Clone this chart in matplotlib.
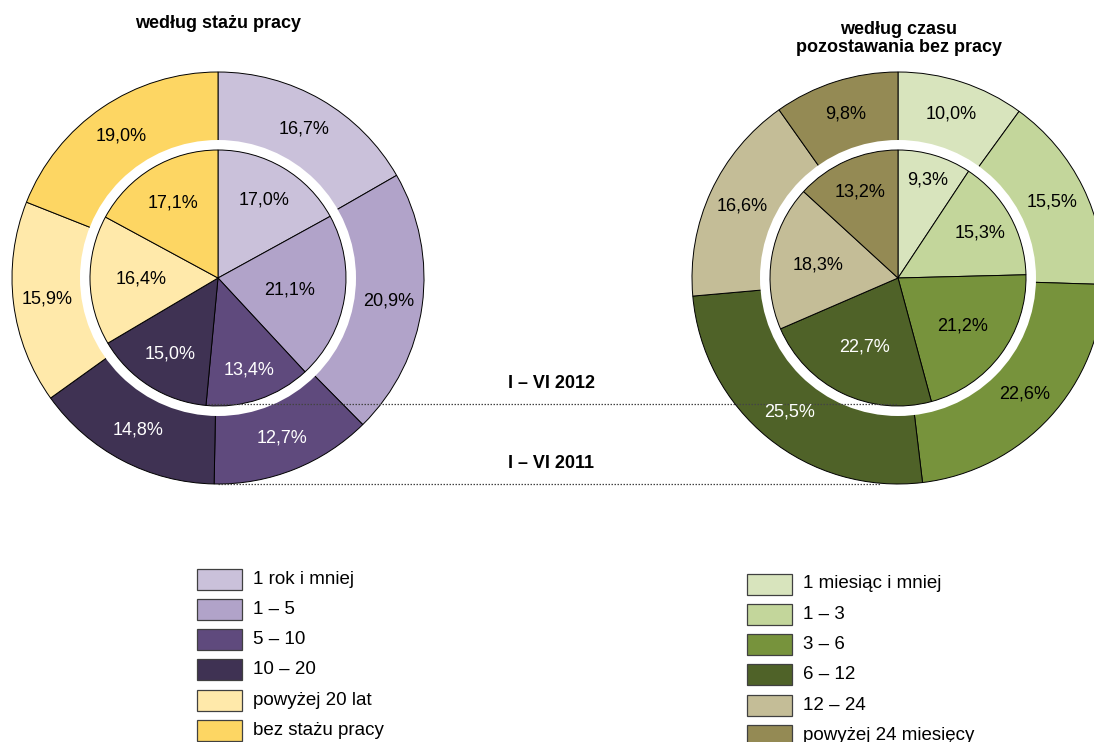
import matplotlib
matplotlib.use('Agg')
import matplotlib.pyplot as plt
from matplotlib.patches import Circle, Rectangle
import numpy as np

plt.rcParams['font.family'] = ['Liberation Sans', 'DejaVu Sans']

# ---- data ----
staz_categories = ['1 rok i mniej', '1 – 5', '5 – 10', '10 – 20', 'powyżej 20 lat', 'bez stażu pracy']
staz_2011 = [16.7, 20.9, 12.7, 14.8, 15.9, 19.0]
staz_2012 = [17.0, 21.1, 13.4, 15.0, 16.4, 17.1]

czas_categories = ['1 miesiąc i mniej', '1 – 3', '3 – 6', '6 – 12', '12 – 24', 'powyżej 24 miesięcy']
czas_2011 = [10.0, 15.5, 22.6, 25.5, 16.6, 9.8]
czas_2012 = [9.3, 15.3, 21.2, 22.7, 18.3, 13.2]

title_staz = 'według stażu pracy'
title_czas = ['według czasu', 'pozostawania bez pracy']
label_2012 = 'I – VI 2012'
label_2011 = 'I – VI 2011'

# ---- styles ----
staz_colors = ['#CAC1DA', '#B1A3C9', '#5F4A7D', '#3F3253', '#FFE9AA', '#FDD663']
czas_colors = ['#D8E4BD', '#C3D69B', '#77933C', '#4F6228', '#C4BD97', '#948A54']
staz_text = ['black', 'black', 'white', 'white', 'black', 'black']
czas_text = ['black', 'black', 'black', 'white', 'black', 'black']
staz_in_dist = [0.71, 0.57, 0.76, 0.70, 0.60, 0.68]
czas_in_dist = [0.80, 0.73, 0.63, 0.60, 0.63, 0.73]

W, H = 1094, 742
fig = plt.figure(figsize=(W / 100, H / 100), dpi=100)
ax = fig.add_axes([0, 0, 1, 1])


def Y(y):
    return H - y


R_OUT, R_GAP, R_IN = 206, 138, 128
FS = 13


def fmt(v):
    return f"{v:.1f}%".replace('.', ',')


def donut(cx, cy, outer, inner, colors, tcolors, in_dist):
    c = (cx, Y(cy))
    wo, _ = ax.pie(outer, colors=colors, startangle=90, counterclock=False,
                   radius=R_OUT, center=c,
                   wedgeprops=dict(edgecolor='black', linewidth=0.7))
    for w in wo:
        w.set_zorder(2)
    ax.add_patch(Circle(c, R_GAP, facecolor='white', edgecolor='none', zorder=3))
    wi, _ = ax.pie(inner, colors=colors, startangle=90, counterclock=False,
                   radius=R_IN, center=c,
                   wedgeprops=dict(edgecolor='black', linewidth=0.7))
    for w in wi:
        w.set_zorder(4)
    for w, v, tc in zip(wo, outer, tcolors):
        a = np.deg2rad((w.theta1 + w.theta2) / 2)
        d = 0.835 * R_OUT
        ax.text(c[0] + d * np.cos(a), c[1] + d * np.sin(a), fmt(v), color=tc,
                fontsize=FS, ha='center', va='center', zorder=6)
    for w, v, tc, dd in zip(wi, inner, tcolors, in_dist):
        a = np.deg2rad((w.theta1 + w.theta2) / 2)
        d = dd * R_IN
        ax.text(c[0] + d * np.cos(a), c[1] + d * np.sin(a), fmt(v), color=tc,
                fontsize=FS, ha='center', va='center', zorder=6)


donut(218, 278, staz_2011, staz_2012, staz_colors, staz_text, staz_in_dist)
donut(898, 278, czas_2011, czas_2012, czas_colors, czas_text, czas_in_dist)

# titles
ax.text(218, Y(23), title_staz, fontsize=FS, fontweight='bold', ha='center', va='center')
ax.text(899, Y(29), title_czas[0], fontsize=FS, fontweight='bold', ha='center', va='center')
ax.text(899, Y(47), title_czas[1], fontsize=FS, fontweight='bold', ha='center', va='center')

# year connectors
ax.plot([208, 897], [Y(404), Y(404)], ls=(0, (1.2, 1.2)), color='#444444', lw=0.9, zorder=5)
ax.plot([218, 880], [Y(484), Y(484)], ls=(0, (1.2, 1.2)), color='#444444', lw=0.9, zorder=5)
ax.text(551, Y(384), label_2012, fontsize=FS, fontweight='bold', ha='center', va='center')
ax.text(551, Y(463), label_2011, fontsize=FS, fontweight='bold', ha='center', va='center')

# legends
def legend(x, y0, cats, colors):
    for i, (cat, col) in enumerate(zip(cats, colors)):
        yc = y0 + 30.3 * i
        ax.add_patch(Rectangle((x, Y(yc) - 10.5), 45, 21, facecolor=col,
                               edgecolor='#404040', linewidth=0.9, zorder=5))
        ax.text(x + 56, Y(yc), cat, fontsize=13.5, ha='left', va='center', zorder=6)


legend(197, 579, staz_categories, staz_colors)
legend(747, 584, czas_categories, czas_colors)

ax.set_xlim(0, W)
ax.set_ylim(0, H)
ax.set_aspect('equal')
ax.axis('off')

fig.savefig('out.png', dpi=100)
